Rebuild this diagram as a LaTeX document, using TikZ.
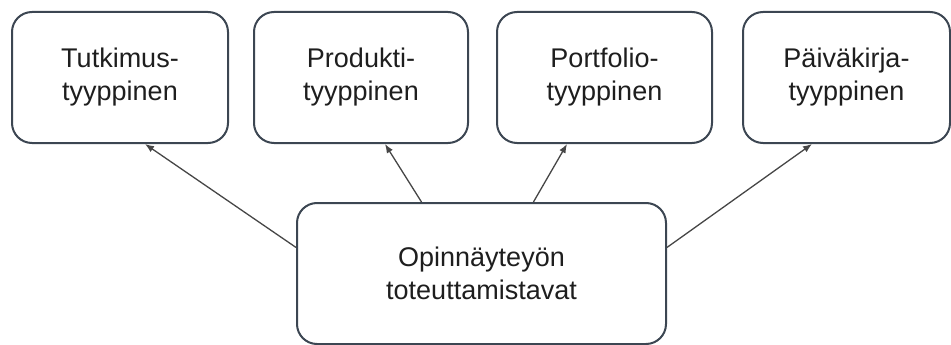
\documentclass[tikz,border=0pt]{standalone}
\usepackage{fontspec}
\setmainfont{Liberation Sans}
\usepackage{xcolor}
\usetikzlibrary{arrows.meta}
\definecolor{boxline}{RGB}{60,70,82}
\definecolor{ink}{RGB}{30,30,30}
\definecolor{wire}{RGB}{70,70,70}
\tikzstyle{kind}=[draw=boxline,line width=2pt,rounded corners=20pt,text=ink,align=center,inner sep=0pt,font=\fontsize{27}{33}\selectfont]
\tikzstyle{link}=[draw=wire,line width=1.3pt,-{Latex[length=9pt,width=7pt]}]

\begin{document}
\begin{tikzpicture}[x=1pt,y=-1pt]
    \useasboundingbox (0,0) rectangle (951,345);
    \path
    node[kind,minimum width=216,minimum height=131] (tutk) at (120,77.5) {Tutkimus-\\tyyppinen}
    node[kind,minimum width=214,minimum height=131] (prod) at (361,77.5) {Produkti-\\tyyppinen}
    node[kind,minimum width=215,minimum height=131] (port) at (604.5,77.5) {Portfolio-\\tyyppinen}
    node[kind,minimum width=207,minimum height=131] (paiv) at (846.5,77.5) {Päiväkirja-\\tyyppinen}
    node[kind,minimum width=369,minimum height=141] (tapa) at (481.5,273.5) {Opinnäyteyön\\toteuttamistavat};
    \draw[link] (tapa.172) -- ([xshift=25]tutk.south);
    \draw[link] (tapa.130.7) -- ([xshift=24]prod.south);
    \draw[link] (tapa.54.2) -- ([xshift=-37.5]port.south);
    \draw[link] (tapa.8.1) -- ([xshift=-34.5]paiv.south);
  \end{tikzpicture}
\end{document}
